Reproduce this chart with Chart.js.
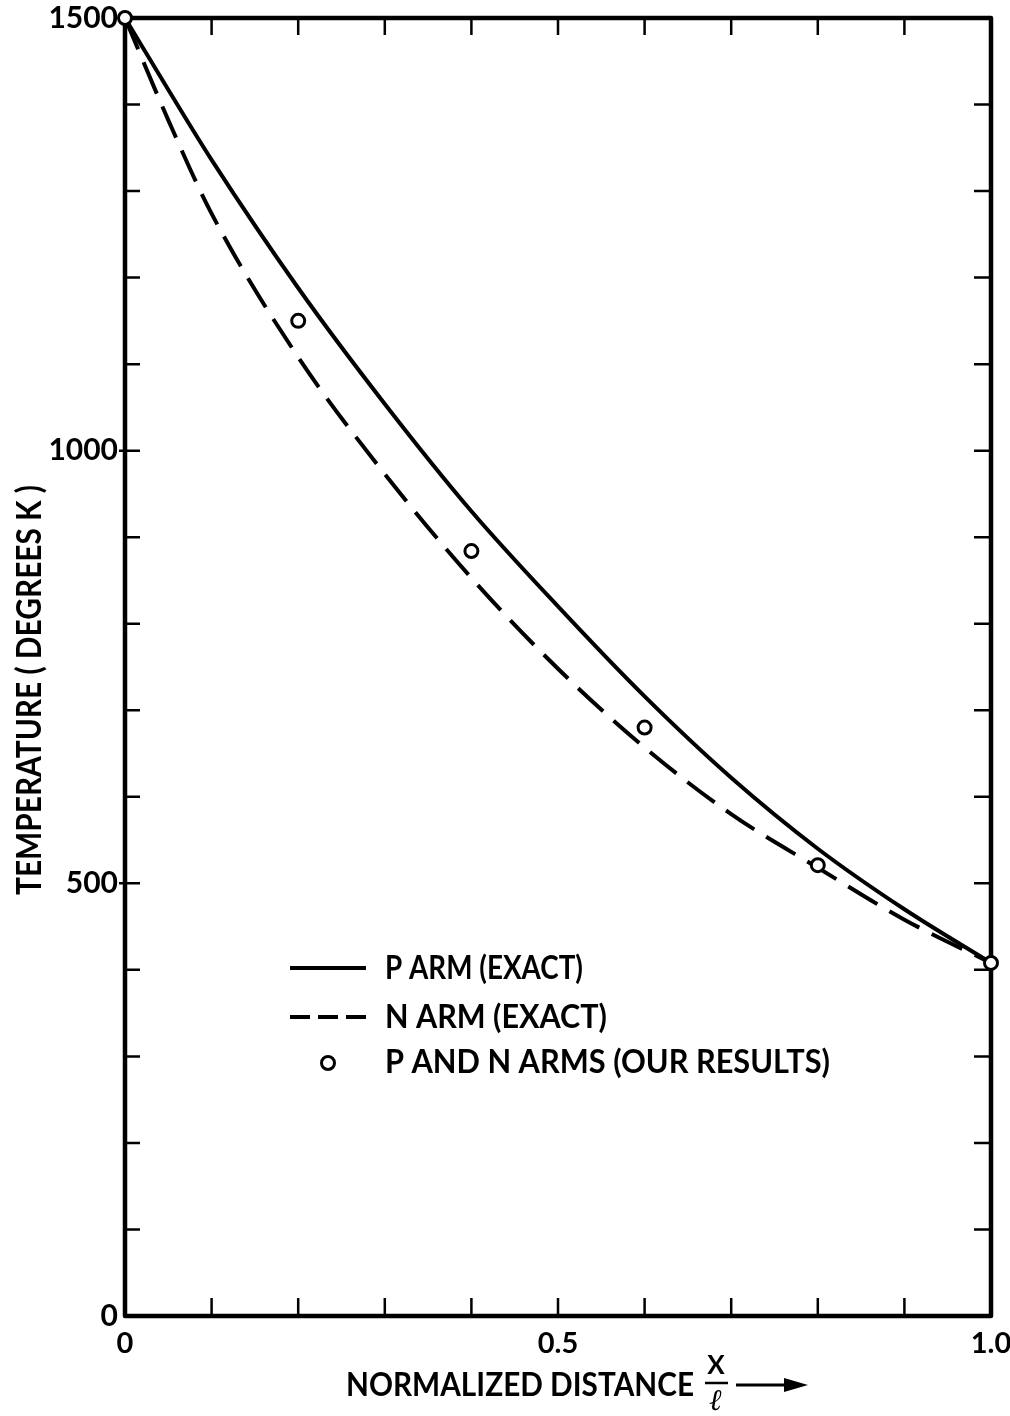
<!DOCTYPE html>
<html>
<head>
<meta charset="utf-8">
<script src="https://cdn.jsdelivr.net/npm/chart.js@4.4.1/dist/chart.umd.min.js"></script>
<style>
  html, body { margin: 0; padding: 0; background: #fff; }
  #wrap { width: 1010px; height: 1416px; }
</style>
</head>
<body>
<div id="wrap"><canvas id="tempChart" width="1010" height="1416"></canvas></div>
<script>
// values (x = normalized distance, y = temperature in K)
const distance   = [0, 0.05, 0.1, 0.2, 0.3, 0.4, 0.5, 0.6, 0.7, 0.8, 0.9, 1.0];
const pArmExact  = [1500, 1417, 1336, 1188, 1054, 930, 820, 716, 622, 540, 470, 408];
const nArmExact  = [1500, 1382, 1274, 1108, 973, 853, 748, 657, 580, 518, 458, 408];
const ourDistance = [0, 0.2, 0.4, 0.6, 0.8, 1.0];
const ourResults  = [1500, 1150, 884, 680, 521, 408];

const xLabelValues = [0, 0.5, 1.0];
const xLabelText   = ["0", "0.5", "1.0"];
const yLabelValues = [0, 500, 1000, 1500];

const legendText = ["P ARM (EXACT)", "N ARM (EXACT)", "P AND N ARMS (OUR RESULTS)"];
const yTitle = "TEMPERATURE ( DEGREES K )";
const xTitle = "NORMALIZED DISTANCE";

const FONT = "Lato, 'DejaVu Sans', sans-serif";

function toPoints(xs, ys) {
  return xs.map((x, i) => ({ x: x, y: ys[i] }));
}

// draw text squeezed/stretched to a given width, starting at x
function fitText(ctx, text, x, y, width) {
  const w = ctx.measureText(text).width;
  ctx.save();
  ctx.translate(x, y);
  ctx.scale(width / w, 1);
  ctx.textAlign = "left";
  ctx.fillText(text, 0, 0);
  ctx.restore();
}

// frame with inward ticks, legend and axis titles
const framePlugin = {
  id: "frame",
  beforeDatasetsDraw(chart) {
    const { ctx, chartArea: a, scales: { x, y } } = chart;
    ctx.save();
    ctx.strokeStyle = "#000";
    ctx.lineWidth = 4.5;
    ctx.lineJoin = "round";
    ctx.strokeRect(a.left, a.top, a.right - a.left, a.bottom - a.top);

    ctx.lineWidth = 2.5;
    ctx.beginPath();
    x.ticks.forEach(t => {
      const px = x.getPixelForValue(t.value);
      if (px <= a.left + 2 || px >= a.right - 2) return;
      ctx.moveTo(px, a.bottom); ctx.lineTo(px, a.bottom - 18);
      ctx.moveTo(px, a.top); ctx.lineTo(px, a.top + 17);
    });
    y.ticks.forEach(t => {
      const py = y.getPixelForValue(t.value);
      if (py <= a.top + 2 || py >= a.bottom - 2) return;
      const major = yLabelValues.includes(Math.round(t.value));
      ctx.moveTo(a.left - (major ? 6 : 0), py); ctx.lineTo(a.left + 15, py);
      ctx.moveTo(a.right, py); ctx.lineTo(a.right - 17, py);
    });
    ctx.stroke();
    ctx.restore();
  },
  afterDraw(chart) {
    const ctx = chart.ctx;
    const ds = chart.data.datasets;
    ctx.save();
    ctx.fillStyle = "#000";
    ctx.strokeStyle = "#000";
    ctx.textBaseline = "middle";
    ctx.font = "bold 32px " + FONT;

    // legend
    ctx.lineWidth = ds[0].borderWidth;
    ctx.setLineDash([]);
    ctx.beginPath(); ctx.moveTo(290, 968); ctx.lineTo(366, 968); ctx.stroke();
    fitText(ctx, legendText[0], 385, 969, 198);

    ctx.lineWidth = ds[1].borderWidth;
    ctx.setLineDash([20, 8]);
    ctx.beginPath(); ctx.moveTo(290, 1017); ctx.lineTo(366, 1017); ctx.stroke();
    ctx.setLineDash([]);
    fitText(ctx, legendText[1], 385, 1018, 222);

    ctx.lineWidth = ds[2].borderWidth;
    ctx.fillStyle = "#fff";
    ctx.beginPath(); ctx.arc(328, 1063, ds[2].pointRadius, 0, Math.PI * 2); ctx.fill(); ctx.stroke();
    ctx.fillStyle = "#000";
    fitText(ctx, legendText[2], 385, 1063, 445);

    // y title
    ctx.save();
    ctx.translate(30, 895);
    ctx.rotate(-Math.PI / 2);
    ctx.font = "bold 34px " + FONT;
    fitText(ctx, yTitle, 0, 0, 410);
    ctx.restore();

    // x title with x/l fraction and arrow
    ctx.font = "bold 33px " + FONT;
    fitText(ctx, xTitle, 346, 1385, 348);
    ctx.font = "bold 26px " + FONT;
    ctx.textAlign = "center";
    ctx.fillText("X", 716, 1366);
    ctx.font = "italic bold 30px 'DejaVu Serif', serif";
    ctx.fillText("\u2113", 716, 1402);
    ctx.lineWidth = 2.5;
    ctx.beginPath(); ctx.moveTo(705, 1383); ctx.lineTo(728, 1383); ctx.stroke();
    ctx.lineWidth = 3;
    ctx.beginPath(); ctx.moveTo(736, 1385); ctx.lineTo(790, 1385); ctx.stroke();
    ctx.beginPath();
    ctx.moveTo(808, 1385); ctx.lineTo(784, 1378); ctx.lineTo(784, 1392); ctx.closePath(); ctx.fill();
    ctx.restore();
  }
};

const ctx = document.getElementById("tempChart").getContext("2d");

new Chart(ctx, {
  type: "scatter",
  data: {
    datasets: [
      {
        label: "P ARM (EXACT)",
        data: toPoints(distance, pArmExact),
        showLine: true,
        borderColor: "#000",
        borderWidth: 4,
        pointRadius: 0,
        cubicInterpolationMode: "monotone",
        order: 3
      },
      {
        label: "N ARM (EXACT)",
        data: toPoints(distance, nArmExact),
        showLine: true,
        borderColor: "#000",
        borderWidth: 4,
        borderDash: [34, 14],
        pointRadius: 0,
        cubicInterpolationMode: "monotone",
        order: 2
      },
      {
        label: "P AND N ARMS (OUR RESULTS)",
        data: toPoints(ourDistance, ourResults),
        showLine: false,
        pointStyle: "circle",
        pointRadius: 6.5,
        borderWidth: 3,
        borderColor: "#000",
        backgroundColor: "#fff",
        clip: false,
        order: 1
      }
    ]
  },
  options: {
    responsive: false,
    animation: false,
    events: [],
    layout: { padding: { top: 18, right: 19, left: 0, bottom: 0 } },
    plugins: { legend: { display: false }, tooltip: { enabled: false } },
    scales: {
      x: {
        type: "linear",
        min: 0,
        max: 1,
        afterFit: s => { s.height = 100; s.paddingLeft = 0; s.paddingRight = 0; },
        grid: { display: false, drawTicks: false },
        border: { display: false },
        ticks: {
          stepSize: 0.1,
          autoSkip: false,
          maxRotation: 0,
          padding: 10,
          color: "#000",
          font: { family: FONT, size: 29, weight: "bold" },
          callback: v => {
            const i = xLabelValues.findIndex(l => Math.abs(l - v) < 1e-6);
            return i >= 0 ? xLabelText[i] : "";
          }
        }
      },
      y: {
        min: 0,
        max: 1500,
        afterFit: s => { s.width = 125; s.paddingTop = 0; s.paddingBottom = 0; },
        grid: { display: false, drawTicks: false },
        border: { display: false },
        ticks: {
          stepSize: 100,
          autoSkip: false,
          padding: 7,
          color: "#000",
          font: { family: FONT, size: 30, weight: "bold" },
          callback: v => yLabelValues.includes(Math.round(v)) ? String(Math.round(v)) : ""
        }
      }
    }
  },
  plugins: [framePlugin]
});
</script>
</body>
</html>
